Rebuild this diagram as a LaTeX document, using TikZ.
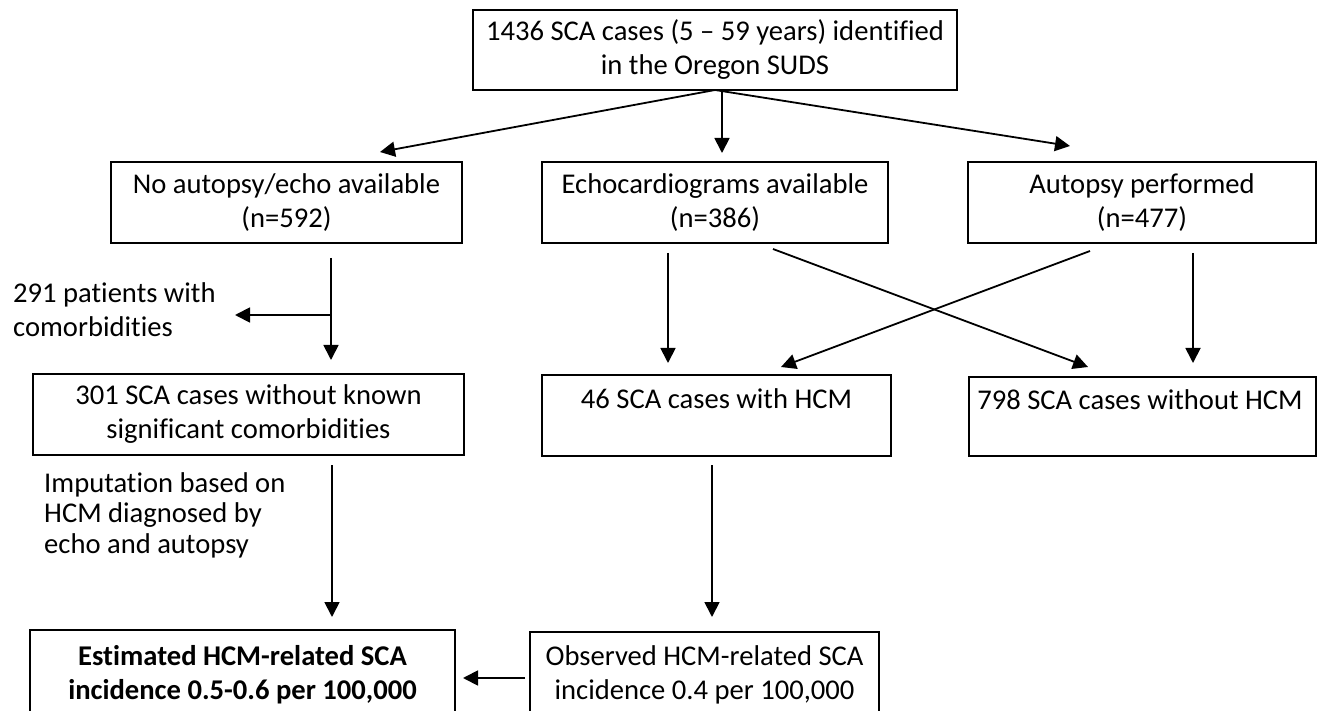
\documentclass[tikz,border=0pt]{standalone}
\usepackage{fontspec}
\setmainfont[Ligatures=NoCommon]{Carlito}
\usetikzlibrary{arrows.meta}
\begin{document}
\begin{tikzpicture}[x=1pt,y=-1pt,
  box/.style={draw=black, line width=2.2pt, align=center, inner sep=0pt, font=\fontsize{28.6}{34}\selectfont},
  lbl/.style={align=left, anchor=west, inner sep=0pt, font=\fontsize{28.6}{34}\selectfont},
  arr/.style={line width=1.8pt, -{Triangle[length=15pt,width=15pt]}}]
\useasboundingbox (0,0) rectangle (1323,711);
\begin{scope}
\clip (0,0) rectangle (1323,711);
\node[box, minimum width=484pt, minimum height=80pt] (top) at (715,50) {1436 SCA cases (5 -- 59 years) identified\\in the Oregon SUDS};
\node[box, minimum width=351pt, minimum height=81pt] (noecho) at (286.5,202.5) {No autopsy/echo available\\(n=592)};
\node[box, minimum width=346pt, minimum height=81pt] (echo) at (715,202.5) {Echocardiograms available\\(n=386)};
\node[box, minimum width=348pt, minimum height=81pt] (aut) at (1142,202.5) {Autopsy performed\\(n=477)};
\node[box, minimum width=431pt, minimum height=81pt] (b301) at (248.5,414.5) {301 SCA cases without known\\significant comorbidities};
\node[box, minimum width=349pt, minimum height=81pt] (b46) at (716.5,415.5) {};
\node[box, minimum width=347pt, minimum height=79pt] (b798) at (1142.5,416.5) {};
\node[box, minimum width=425pt, minimum height=90pt, font=\fontsize{28.6}{34}\selectfont\bfseries] (est) at (242.5,675) {Estimated HCM-related SCA\\incidence 0.5-0.6 per 100,000};
\node[box, minimum width=349pt, minimum height=86pt] (obs) at (704.5,675) {Observed HCM-related SCA\\incidence 0.4 per 100,000};
\end{scope}
\node[lbl, anchor=center] (t46) at (716.5,399) {46 SCA cases with HCM};
\node[lbl, anchor=center] (t798) at (1140,400) {798 SCA cases without HCM};
\node[lbl] (com) at (13,310) {291 patients with\\comorbidities};
\node[lbl, font=\fontsize{28.6}{30.5}\selectfont] (imp) at (44,515) {Imputation based on\\HCM diagnosed by\\echo and autopsy};
% coordinates
\coordinate (t0) at (715,90);
\coordinate (t1) at (722,90);
\coordinate (e1) at (380,152);
\coordinate (e2) at (722,153);
\coordinate (e3) at (1070,146);
\coordinate (n0) at (331,258);
\coordinate (n1) at (331,360);
\coordinate (nb) at (331,315);
\coordinate (nc) at (235,315);
\coordinate (ea) at (668,253);
\coordinate (eb) at (668,363);
\coordinate (ec) at (773,249);
\coordinate (ed) at (1088,367);
\coordinate (aa) at (1090,251);
\coordinate (ab) at (781,367);
\coordinate (ac) at (1193,253);
\coordinate (ad) at (1193,363);
\coordinate (s0) at (332,465);
\coordinate (s1) at (332,617);
\coordinate (h0) at (712,465);
\coordinate (h1) at (712,617);
\coordinate (o0) at (525,678);
\coordinate (o1) at (463,678);
\draw[arr] (t0) -- (e1);
\draw[arr] (t1) -- (e2);
\draw[arr] (t0) -- (e3);
\draw[arr] (n0) -- (n1);
\draw[arr] (nb) -- (nc);
\draw[arr] (ea) -- (eb);
\draw[arr] (ec) -- (ed);
\draw[arr] (aa) -- (ab);
\draw[arr] (ac) -- (ad);
\draw[arr] (s0) -- (s1);
\draw[arr] (h0) -- (h1);
\draw[arr] (o0) -- (o1);
\end{tikzpicture}
\end{document}
